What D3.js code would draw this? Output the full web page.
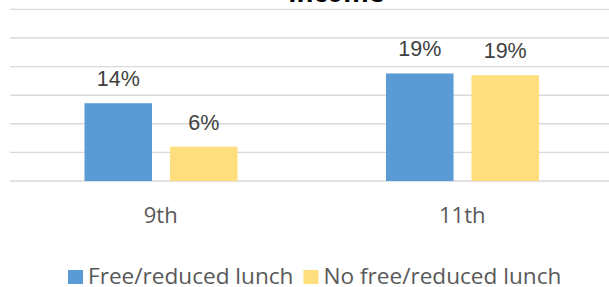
<!DOCTYPE html>
<html>
<head>
<meta charset="utf-8">
<style>
  html, body { margin: 0; padding: 0; background: #fff; }
  svg { display: block; }
</style>
</head>
<body>
<div id="chart"></div>
<script src="https://d3js.org/d3.v7.min.js"></script>
<script>
// Chart data
var categories = ["9th", "11th"];
var seriesNames = ["Free/reduced lunch", "No free/reduced lunch"];
var freeLunch = [13.6, 18.8];
var noFreeLunch = [6.0, 18.5];
var yTicks = [0, 5, 10, 15, 20, 25, 30];
var colors = ["#5B9BD5", "#FFDE7E"];

var width = 609, height = 287;

var svg = d3.select("#chart")
  .append("svg")
  .attr("width", width)
  .attr("height", height);

// Scales
var x = d3.scaleBand()
  .domain(categories)
  .range([10, 613]);

var xSub = d3.scaleBand()
  .domain(seriesNames)
  .range([74.5, 227.5])
  .paddingInner(0.21);

var y = d3.scaleLinear()
  .domain([0, 30])
  .range([181, 9.4]);

// Gridlines
svg.append("g")
  .selectAll("line")
  .data(yTicks)
  .enter()
  .append("line")
  .attr("x1", 10)
  .attr("x2", width)
  .attr("y1", function(d) { return y(d); })
  .attr("y2", function(d) { return y(d); })
  .attr("stroke", "#d9d9d9")
  .attr("stroke-width", 1.4);

// Title (cropped at top in the original)
svg.append("text")
  .attr("x", 336)
  .attr("y", 2)
  .attr("text-anchor", "middle")
  .style("font-family", "'Open Sans', sans-serif")
  .style("font-weight", "bold")
  .style("font-size", "26px")
  .attr("fill", "#000")
  .text("Income");

// Bars
var rows = categories.map(function(c, i) {
  return [
    { cat: c, name: seriesNames[0], value: freeLunch[i], color: colors[0] },
    { cat: c, name: seriesNames[1], value: noFreeLunch[i], color: colors[1] }
  ];
});

var groups = svg.append("g")
  .selectAll("g")
  .data(rows)
  .enter()
  .append("g")
  .attr("transform", function(d) { return "translate(" + x(d[0].cat) + ",0)"; });

groups.selectAll("rect")
  .data(function(d) { return d; })
  .enter()
  .append("rect")
  .attr("x", function(d) { return xSub(d.name); })
  .attr("width", xSub.bandwidth())
  .attr("y", function(d) { return y(d.value); })
  .attr("height", function(d) { return y(0) - y(d.value); })
  .attr("fill", function(d) { return d.color; });

// Value labels
groups.selectAll("text")
  .data(function(d) { return d; })
  .enter()
  .append("text")
  .attr("x", function(d) { return xSub(d.name) + xSub.bandwidth() / 2; })
  .attr("y", function(d) { return y(d.value) - 17; })
  .attr("text-anchor", "middle")
  .style("font-family", "'Liberation Sans', Arial, sans-serif")
  .style("font-size", "21.5px")
  .attr("fill", "#404040")
  .text(function(d) { return Math.round(d.value) + "%"; });

// Category labels
svg.append("g")
  .selectAll("text")
  .data(categories)
  .enter()
  .append("text")
  .attr("x", function(d) { return x(d) + x.bandwidth() / 2; })
  .attr("y", 223)
  .attr("text-anchor", "middle")
  .style("font-family", "'Open Sans', sans-serif")
  .style("font-size", "22px")
  .attr("fill", "#595959")
  .text(function(d) { return d; });

// Legend
var legend = svg.append("g");
var lx = 68;
seriesNames.forEach(function(name, i) {
  legend.append("rect")
    .attr("x", lx)
    .attr("y", 270)
    .attr("width", 15)
    .attr("height", 14)
    .attr("fill", colors[i]);
  var t = legend.append("text")
    .attr("x", lx + 20)
    .attr("y", 284)
    .style("font-family", "'Open Sans', sans-serif")
    .style("font-size", "22.6px")
    .attr("fill", "#595959")
    .text(name);
  lx = lx + 20 + t.node().getComputedTextLength() + 10;
});
</script>
</body>
</html>
